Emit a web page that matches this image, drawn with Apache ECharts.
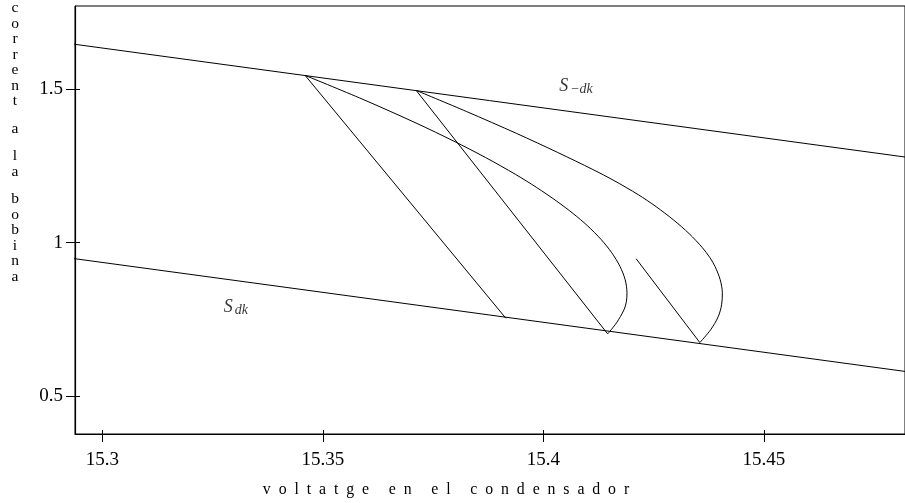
<!DOCTYPE html>
<html>
<head>
<meta charset="utf-8">
<script src="https://cdn.jsdelivr.net/npm/echarts@6/dist/echarts.min.js"></script>
<style>
  html, body { margin: 0; padding: 0; background: #fff; }
  #chart { width: 905px; height: 503px; }
</style>
</head>
<body>
<div id="chart"></div>
<script>
// Axis extents and tick marks
const xRange = [15.2938, 15.482];
const yRange = [0.376, 1.772];
const xTicks = [15.3, 15.35, 15.4, 15.45];
const yTicks = [0.5, 1, 1.5];

// Switching surfaces (straight lines, clipped to the plot)
const surfaceUpper = [[15.29, 1.6544], [15.49, 1.2638]];   // S_{-dk}
const surfaceLower = [[15.29, 0.9551], [15.49, 0.5645]];   // S_{dk}

// Straight trajectory segments between the surfaces
const segment1 = [[15.34597, 1.5458], [15.39151, 0.7533]];
const segment2 = [[15.37116, 1.4967], [15.41458, 0.7026]];
const segment3 = [[15.42103, 0.9477], [15.43548, 0.6742]];

// Curved trajectory arcs leaving S_{-dk}
const arc1 = [
  [15.34597, 1.54575], [15.35911, 1.46732], [15.37134, 1.38889], [15.37971, 1.33105],
  [15.38689, 1.27778], [15.39375, 1.22222], [15.39851, 1.17974], [15.40307, 1.13497],
  [15.40677, 1.09477], [15.40998, 1.05556], [15.41314, 1.00980], [15.41550, 0.96732],
  [15.41738, 0.92255], [15.41855, 0.87908], [15.41896, 0.83660], [15.41882, 0.80719],
  [15.41828, 0.78105], [15.41659, 0.73856], [15.41458, 0.70261]
];
const arc2 = [
  [15.37116, 1.49673], [15.38253, 1.42810], [15.39395, 1.35621], [15.40327, 1.29412],
  [15.41124, 1.23856], [15.41602, 1.20261], [15.42149, 1.15686], [15.42555, 1.11765],
  [15.42943, 1.07516], [15.43306, 1.02941], [15.43606, 0.98366], [15.43778, 0.95098],
  [15.43895, 0.92157], [15.44010, 0.87908], [15.44058, 0.83660], [15.44042, 0.79739],
  [15.43963, 0.75817], [15.43792, 0.71569], [15.43548, 0.67418]
];

// Surface name anchors (data coordinates)
const labelUpperAt = [15.40358, 1.5098];
const labelLowerAt = [15.32753, 0.7892];

const xTitle = 'voltatge en el condensador';
const yTitle = 'corrent a la bobina';

const serif = '"Liberation Serif", "DejaVu Serif", serif';
const ink = '#000';

// Spaced-out horizontal title: en space between letters, wider gap between words
const xTitleText = xTitle.split(' ')
  .map(w => w.split('').join('\u2002'))
  .join('\u2003 ');

// Stacked vertical title, one letter per line
const yTitleText = yTitle.split('')
  .map(ch => ch === ' ' ? '{g| }' : '{c|' + ch + '}')
  .join('\n');

function lineSeries(name, data, smooth) {
  return {
    name, type: 'line', data, smooth: smooth ? 0.3 : false,
    showSymbol: false, symbol: 'none', clip: true,
    lineStyle: { color: ink, width: 1 },
    emphasis: { disabled: true }, silent: true
  };
}

const subRich = {
  s: { fontFamily: serif, fontStyle: 'italic', fontSize: 18, lineHeight: 20, color: ink, verticalAlign: 'middle' },
  sub: { fontFamily: serif, fontStyle: 'italic', fontSize: 14, lineHeight: 11, color: ink, verticalAlign: 'bottom', padding: [0, 0, 0, 2] }
};

const chart = echarts.init(document.getElementById('chart'), null, { renderer: 'canvas' });

const axisCommon = {
  type: 'value',
  splitLine: { show: false },
  minorTick: { show: false }
};

chart.setOption({
  animation: false,
  backgroundColor: '#fff',
  grid: {
    left: 75, top: 6, width: 834, height: 428,
    show: true, borderColor: ink, borderWidth: 1, backgroundColor: 'transparent'
  },
  xAxis: [
    Object.assign({}, axisCommon, {
      min: xRange[0], max: xRange[1], position: 'bottom',
      axisLine: { show: true, onZero: false, lineStyle: { color: ink, width: 1.2 } },
      axisTick: { show: true, inside: false, length: 8, customValues: xTicks, lineStyle: { color: ink, width: 1 } },
      axisLabel: { show: true, customValues: xTicks, margin: 17, color: ink, fontFamily: serif, fontSize: 19 },
      name: xTitleText, nameLocation: 'middle', nameGap: 48,
      nameTextStyle: { color: ink, fontFamily: serif, fontSize: 15.8, padding: [0, 88, 0, 0] }
    }),
    Object.assign({}, axisCommon, {
      min: xRange[0], max: xRange[1], position: 'bottom',
      axisLine: { show: false },
      axisTick: { show: true, inside: true, length: 4, customValues: xTicks, lineStyle: { color: ink, width: 1 } },
      axisLabel: { show: false }
    })
  ],
  yAxis: [
    Object.assign({}, axisCommon, {
      min: yRange[0], max: yRange[1], position: 'left',
      axisLine: { show: true, onZero: false, lineStyle: { color: ink, width: 1.2 } },
      axisTick: { show: true, inside: false, length: 9, customValues: yTicks, lineStyle: { color: ink, width: 1 } },
      axisLabel: { show: true, customValues: yTicks, margin: 12, color: ink, fontFamily: serif, fontSize: 19 }
    }),
    Object.assign({}, axisCommon, {
      min: yRange[0], max: yRange[1], position: 'left',
      axisLine: { show: false },
      axisTick: { show: true, inside: true, length: 5, customValues: yTicks, lineStyle: { color: ink, width: 1 } },
      axisLabel: { show: false }
    })
  ],
  graphic: [{
    type: 'text', left: 8, top: 0,
    style: {
      text: yTitleText, align: 'center',
      rich: {
        c: { fontFamily: serif, fontSize: 15.5, lineHeight: 15.5, color: ink, align: 'center', width: 14 },
        g: { fontFamily: serif, fontSize: 10, lineHeight: 12, align: 'center', width: 14 }
      }
    }
  }],
  series: [
    lineSeries('S-dk', surfaceUpper, false),
    lineSeries('Sdk', surfaceLower, false),
    lineSeries('tram 1', segment1, false),
    lineSeries('tram 2', segment2, false),
    lineSeries('tram 3', segment3, false),
    lineSeries('arc 1', arc1, true),
    lineSeries('arc 2', arc2, true),
    {
      type: 'scatter', symbolSize: 0, silent: true,
      data: [
        { value: labelUpperAt, label: { formatter: '{s|S}{sub|\u2212dk}' } },
        { value: labelLowerAt, label: { formatter: '{s|S}{sub|dk}' } }
      ],
      label: { show: true, position: 'right', distance: 0, rich: subRich }
    }
  ]
});
</script>
</body>
</html>
